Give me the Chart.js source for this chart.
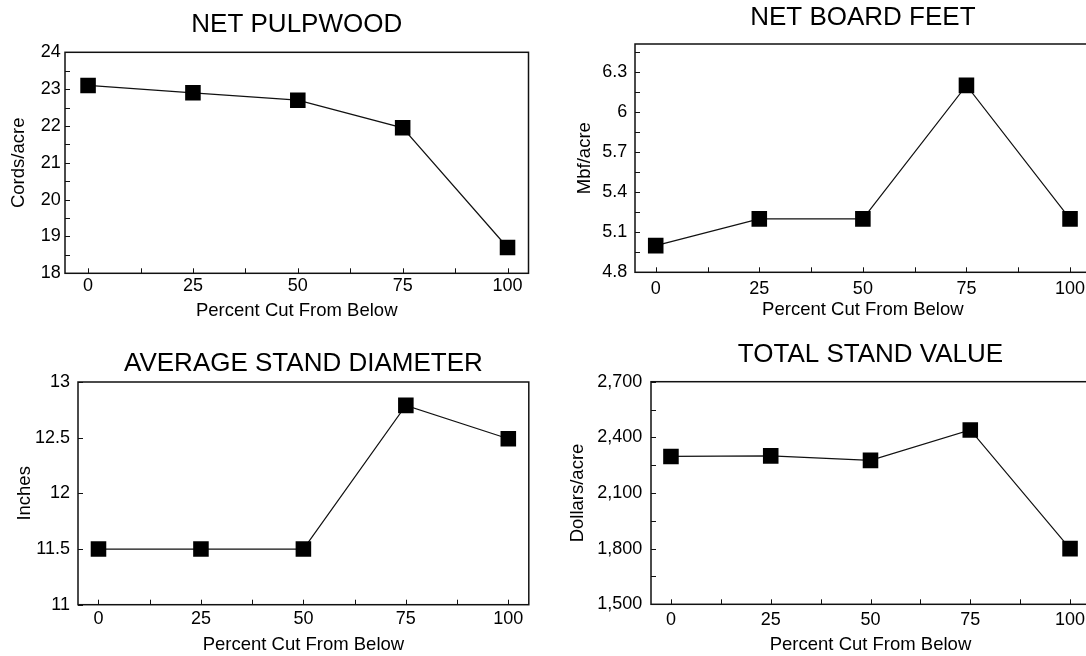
<!DOCTYPE html>
<html>
<head>
<meta charset="utf-8">
<script src="https://cdn.jsdelivr.net/npm/chart.js@4.4.1/dist/chart.umd.min.js"></script>
<style>
  html, body { margin: 0; padding: 0; background: #fff; overflow: hidden; }
  body { width: 1086px; height: 656px; position: relative; }
  .panel { position: absolute; }
</style>
</head>
<body>
<div class="panel" style="left:0;top:0;width:543px;height:328px"><canvas id="pulpChart"></canvas></div>
<div class="panel" style="left:543px;top:0;width:560px;height:328px"><canvas id="boardChart"></canvas></div>
<div class="panel" style="left:0;top:328px;width:543px;height:328px"><canvas id="diamChart"></canvas></div>
<div class="panel" style="left:543px;top:328px;width:560px;height:328px"><canvas id="valueChart"></canvas></div>
<script>
const cutLevels = [0, 25, 50, 75, 100];
const xTickValues = [0, 25, 50, 75, 100];
const xTickLabels = ["0", "25", "50", "75", "100"];
const xMinorTicks = [12.5, 37.5, 62.5, 87.5];

const pulpwoodCords = [23.1, 22.9, 22.7, 21.95, 18.7];
const pulpYTicks = [18, 19, 20, 21, 22, 23, 24];
const pulpYLabels = ["18", "19", "20", "21", "22", "23", "24"];
const pulpYMinor = [18.5, 19.5, 20.5, 21.5, 22.5, 23.5];

const boardFeetMbf = [5.0, 5.2, 5.2, 6.2, 5.2];
const boardYTicks = [4.8, 5.1, 5.4, 5.7, 6.0, 6.3];
const boardYLabels = ["4.8", "5.1", "5.4", "5.7", "6", "6.3"];
const boardYMinor = [4.95, 5.25, 5.55, 5.85, 6.15, 6.45];

const diameterInches = [11.5, 11.5, 11.5, 12.79, 12.49];
const diamYTicks = [11, 11.5, 12, 12.5, 13];
const diamYLabels = ["11", "11.5", "12", "12.5", "13"];
const diamYMinor = [];

const standValue = [2297, 2300, 2276, 2440, 1800];
const valueYTicks = [1500, 1800, 2100, 2400, 2700];
const valueYLabels = ["1,500", "1,800", "2,100", "2,400", "2,700"];
const valueYMinor = [1650, 1950, 2250, 2550];

const FONT = "'Liberation Sans', Arial, Helvetica, sans-serif";
Chart.defaults.font.family = FONT;
Chart.defaults.color = "#000";

// box around the plot plus the small inward tick marks
const axisFrame = {
  id: "axisFrame",
  beforeDatasetsDraw(chart, args, opts) {
    const { ctx, chartArea: area } = chart;
    const xs = chart.scales.x;
    const ys = chart.scales.y;
    ctx.save();
    ctx.strokeStyle = "#111";
    ctx.lineWidth = 1.5;
    ctx.strokeRect(area.left, area.top, area.right - area.left, area.bottom - area.top);
    ctx.lineWidth = 1;
    ctx.beginPath();
    opts.xMarks.forEach((v) => {
      const px = Math.round(xs.getPixelForValue(v)) + 0.5;
      ctx.moveTo(px, area.bottom);
      ctx.lineTo(px, area.bottom - 5);
    });
    opts.yMarks.forEach((v) => {
      const py = Math.round(ys.getPixelForValue(v)) + 0.5;
      ctx.moveTo(area.left, py);
      ctx.lineTo(area.left + 5, py);
    });
    ctx.stroke();
    ctx.restore();
  }
};

const panels = [
  {
    canvas: "pulpChart", title: "NET PULPWOOD", yTitle: "Cords/acre",
    values: pulpwoodCords, yTicks: pulpYTicks, yLabels: pulpYLabels, yMinor: pulpYMinor,
    yMin: 18, yMax: 24, xMin: -5.5, xMax: 105,
    box: { padRight: 14.5, titleTop: 9.4, titleBottom: 11.7, yWidth: 65, yTickPad: 4.3, yTitlePad: 7.9, xHeight: 54.7, xTickPad: 1.9, xTitleBottom: 6.1 }
  },
  {
    canvas: "boardChart", title: "NET BOARD FEET", yTitle: "Mbf/acre",
    values: boardFeetMbf, yTicks: boardYTicks, yLabels: boardYLabels, yMinor: boardYMinor,
    yMin: 4.8, yMax: 6.51, xMin: -5, xMax: 105,
    box: { padRight: 12.25, titleTop: 1.8, titleBottom: 11, yWidth: 92, yTickPad: 7.7, yTitlePad: 30.5, xHeight: 55.7, xTickPad: 5.9, xTitleBottom: 6.9 }
  },
  {
    canvas: "diamChart", title: "AVERAGE STAND DIAMETER", yTitle: "Inches",
    values: diameterInches, yTicks: diamYTicks, yLabels: diamYLabels, yMinor: diamYMinor,
    yMin: 11, yMax: 13, xMin: -5, xMax: 105,
    box: { padRight: 14.2, titleTop: 19.8, titleBottom: 3, yWidth: 78, yTickPad: 8, yTitlePad: 13.9, xHeight: 51.3, xTickPad: 3.3, xTitleBottom: 0.2 }
  },
  {
    canvas: "valueChart", title: "TOTAL STAND VALUE", yTitle: "Dollars/acre",
    values: standValue, yTicks: valueYTicks, yLabels: valueYLabels, yMinor: valueYMinor,
    yMin: 1500, yMax: 2700, xMin: -5, xMax: 105,
    box: { padRight: 13, titleTop: 11.6, titleBottom: 10.9, yWidth: 108, yTickPad: 8.7, yTitlePad: 23.5, xHeight: 51.7, xTickPad: 5.4, xTitleBottom: 0 }
  }
];

function makePanel(p) {
  const b = p.box;
  return new Chart(document.getElementById(p.canvas), {
    type: "line",
    data: {
      datasets: [{
        data: cutLevels.map((c, i) => ({ x: c, y: p.values[i] })),
        borderColor: "#111",
        borderWidth: 1.2,
        tension: 0,
        pointStyle: "rect",
        pointRadius: 11,
        pointBackgroundColor: "#000",
        pointBorderColor: "#000",
        pointBorderWidth: 0
      }]
    },
    options: {
      responsive: true,
      maintainAspectRatio: false,
      animation: false,
      layout: { padding: { left: 0, top: 0, right: b.padRight, bottom: 0 } },
      plugins: {
        legend: { display: false },
        tooltip: { enabled: false },
        title: {
          display: true,
          text: p.title,
          fullSize: false,
          color: "#000",
          font: { size: 26, weight: "normal", lineHeight: 1.2 },
          padding: { top: b.titleTop, bottom: b.titleBottom }
        },
        axisFrame: { xMarks: xTickValues.concat(xMinorTicks), yMarks: p.yTicks.concat(p.yMinor) }
      },
      scales: {
        x: {
          type: "linear",
          min: p.xMin,
          max: p.xMax,
          grid: { display: false, drawTicks: false },
          border: { display: false },
          afterBuildTicks: (s) => { s.ticks = xTickValues.map((v) => ({ value: v })); },
          afterFit: (s) => { s.height = b.xHeight; },
          ticks: {
            autoSkip: false,
            maxRotation: 0,
            padding: b.xTickPad,
            color: "#000",
            font: { size: 18 },
            callback: (v, i) => xTickLabels[i]
          },
          title: {
            display: true,
            text: "Percent Cut From Below",
            color: "#000",
            font: { size: 18.5 },
            padding: { top: 0, bottom: b.xTitleBottom }
          }
        },
        y: {
          min: p.yMin,
          max: p.yMax,
          grid: { display: false, drawTicks: false },
          border: { display: false },
          afterBuildTicks: (s) => { s.ticks = p.yTicks.map((v) => ({ value: v })); },
          afterFit: (s) => { s.width = b.yWidth; },
          ticks: {
            autoSkip: false,
            padding: b.yTickPad,
            color: "#000",
            font: { size: 18 },
            callback: (v, i) => p.yLabels[i]
          },
          title: {
            display: true,
            text: p.yTitle,
            color: "#000",
            font: { size: 18.5 },
            padding: { top: b.yTitlePad, bottom: 0 }
          }
        }
      }
    },
    plugins: [axisFrame]
  });
}

panels.forEach(makePanel);
</script>
</body>
</html>
